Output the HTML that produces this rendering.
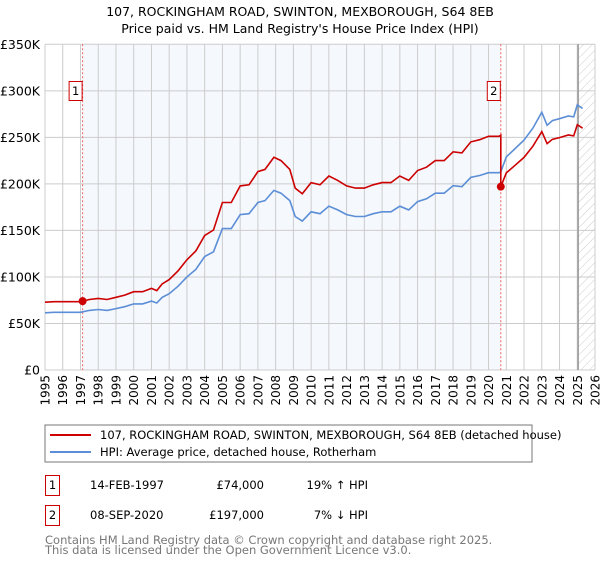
<!DOCTYPE html>
<html><head><meta charset="utf-8"><style>
html,body{margin:0;padding:0;background:#fff;}
body{width:600px;height:560px;position:relative;font-family:"DejaVu Sans","Liberation Sans",sans-serif;overflow:hidden;}
svg text{font-family:"DejaVu Sans","Liberation Sans",sans-serif;}
</style></head><body>
<svg id="chart" width="600" height="560" xmlns="http://www.w3.org/2000/svg">
<defs>
<pattern id="hatch" width="6" height="6" patternUnits="userSpaceOnUse" patternTransform="rotate(45)">
<line x1="0" y1="0" x2="0" y2="6" stroke="#ccc" stroke-width="1"/></pattern>
</defs>
<text x="300" y="16" text-anchor="middle" font-size="12.5" fill="#000">107, ROCKINGHAM ROAD, SWINTON, MEXBOROUGH, S64 8EB</text>
<text x="300" y="33" text-anchor="middle" font-size="12.5" fill="#000">Price paid vs. HM Land Registry's House Price Index (HPI)</text>
<g id="plot"></g>
<g>
<rect x="45" y="425" width="487" height="37" fill="#fff" stroke="#777"/>
<line x1="50" y1="435" x2="91" y2="435" stroke="#cc0000" stroke-width="2"/>
<text x="100" y="439" font-size="11.5">107, ROCKINGHAM ROAD, SWINTON, MEXBOROUGH, S64 8EB (detached house)</text>
<line x1="50" y1="452" x2="91" y2="452" stroke="#5b8ed6" stroke-width="2"/>
<text x="100" y="456" font-size="11.5">HPI: Average price, detached house, Rotherham</text>
</g>
<g font-size="11.5">
<rect x="45.5" y="475.5" width="14" height="20" fill="#fff" stroke="#cc0000"/>
<text x="52.5" y="489" text-anchor="middle">1</text>
<text x="90" y="489">14-FEB-1997</text>
<text x="264" y="489" text-anchor="end">£74,000</text>
<text x="368" y="489" text-anchor="end">19% ↑ HPI</text>
</g>
<g font-size="11.5">
<rect x="45.5" y="505.5" width="14" height="20" fill="#fff" stroke="#cc0000"/>
<text x="52.5" y="519" text-anchor="middle">2</text>
<text x="90" y="519">08-SEP-2020</text>
<text x="264" y="519" text-anchor="end">£197,000</text>
<text x="368" y="519" text-anchor="end">7% ↓ HPI</text>
</g>
<text x="45" y="544" font-size="11.5" fill="#777">Contains HM Land Registry data © Crown copyright and database right 2025.</text>
<text x="45" y="554" font-size="11.5" fill="#777">This data is licensed under the Open Government Licence v3.0.</text>
</svg>
<script>
const hpiYears = [1995,1995.5,1996,1996.5,1997,1997.5,1998,1998.5,1999,1999.5,2000,2000.5,2001,2001.3,2001.6,2002,2002.5,2003,2003.5,2004,2004.5,2005,2005.5,2006,2006.5,2007,2007.4,2007.9,2008.3,2008.8,2009.1,2009.5,2010,2010.5,2011,2011.5,2012,2012.5,2013,2013.5,2014,2014.5,2015,2015.5,2016,2016.5,2017,2017.5,2018,2018.5,2019,2019.5,2020,2020.6,2020.69,2021,2021.5,2022,2022.5,2023,2023.3,2023.6,2024,2024.5,2024.8,2025,2025.3];
const hpiValues = [61.5,62,62,62,62,64,65,64,66,68,71,71,74,72,78,82,90,100,108,122,127,152,152,167,168,180,182,193,190,182,165,160,170,168,176,172,167,165,165,168,170,170,176,172,181,184,190,190,198,197,207,209,212,212,213,229,238,247,260,277,263,268,270,273,272,285,281];
const saleYears = [1997.12, 2020.69];
const salePrices = [74, 197];
const saleLabels = ["1","2"];
const yTicks = [0,50,100,150,200,250,300,350];
const yTickLabels = ["£0","£50K","£100K","£150K","£200K","£250K","£300K","£350K"];
const xTicks = [1995,1996,1997,1998,1999,2000,2001,2002,2003,2004,2005,2006,2007,2008,2009,2010,2011,2012,2013,2014,2015,2016,2017,2018,2019,2020,2021,2022,2023,2024,2025,2026];

const X0=45,X1=595,Y0=370,Y1=44.3;
const xs = y => X0 + (y-1995)/(2026-1995)*(X1-X0);
const ys = v => Y0 - v/350*(Y0-Y1);
const NS="http://www.w3.org/2000/svg";
const plot=document.getElementById('plot');
function mk(tag,attrs,parent){const e=document.createElementNS(NS,tag);for(const k in attrs)e.setAttribute(k,attrs[k]);(parent||plot).appendChild(e);return e;}
function hpiAt(y){for(let i=0;i<hpiYears.length-1;i++){if(y>=hpiYears[i]&&y<=hpiYears[i+1]){const t=(y-hpiYears[i])/(hpiYears[i+1]-hpiYears[i]);return hpiValues[i]+t*(hpiValues[i+1]-hpiValues[i]);}}return hpiValues[hpiValues.length-1];}

const shade=mk('rect',{x:xs(saleYears[0]),y:Y1,width:xs(saleYears[1])-xs(saleYears[0]),height:Y0-Y1,fill:'#eef3fc',opacity:0.6});


const hatch=mk('rect',{x:xs(2025),y:Y1,width:X1-xs(2025),height:Y0-Y1,fill:'url(#hatch)'});


xTicks.forEach((t,i)=>{
  const g=mk('line',{x1:xs(t),x2:xs(t),y1:Y1,y2:Y0,stroke:'#ccc','stroke-width':1});
  
  
  const tx=mk('text',{x:0,y:0,'font-size':12,'text-anchor':'end',transform:`translate(${xs(t)+4.5},${Y0+5}) rotate(-90)`});
  tx.textContent=t;
  
  
});
yTicks.forEach((t,i)=>{
  const g=mk('line',{x1:X0,x2:X1,y1:ys(t),y2:ys(t),stroke:'#ccc','stroke-width':1});
  
  
  const tx=mk('text',{x:X0-5,y:ys(t)+4.5,'font-size':12.5,'text-anchor':'end'});
  tx.textContent=yTickLabels[i];
  
  
});
const nowLine=mk('line',{x1:xs(2025.05),x2:xs(2025.05),y1:Y1,y2:Y0,stroke:'#999','stroke-width':1.5});


saleYears.forEach((s,i)=>{
  const l=mk('line',{x1:xs(s),x2:xs(s),y1:Y1,y2:Y0,stroke:'#f06060','stroke-width':1,'stroke-dasharray':'2,2'});
  
  
});
let d='';
hpiYears.forEach((y,i)=>{d+=(i?'L':'M')+xs(y).toFixed(1)+','+ys(hpiValues[i]).toFixed(1);});
const hp=mk('path',{d:d,fill:'none',stroke:'#5b8ed6','stroke-width':1.6});


let d2='';
const r1=salePrices[0]/hpiAt(saleYears[0]), r2=salePrices[1]/hpiAt(saleYears[1]);
let first=true;
hpiYears.forEach((y,i)=>{
  const r = y<saleYears[1] ? r1 : r2;
  if(y>=saleYears[1] && y<=saleYears[1]+0.001 && !first){d2+='L'+xs(saleYears[1]).toFixed(1)+','+ys(hpiAt(saleYears[1])*r1).toFixed(1);}
  d2+=(first?'M':'L')+xs(y).toFixed(1)+','+ys(hpiValues[i]*r).toFixed(1);first=false;
});
const pp=mk('path',{d:d2,fill:'none',stroke:'#cc0000','stroke-width':1.6});


saleYears.forEach((s,i)=>{
  const c=mk('circle',{cx:xs(s),cy:ys(salePrices[i]),r:4,fill:'#cc0000'});
  
  
  const bx=mk('rect',{x:xs(s)-13.5,y:81.5,width:13,height:19,fill:'#fff',stroke:'#cc0000'});
  
  
  const t=mk('text',{x:xs(s)-7,y:95,'font-size':11.5,'text-anchor':'middle'});
  t.textContent=saleLabels[i];
  
  
});
</script>
</body></html>
